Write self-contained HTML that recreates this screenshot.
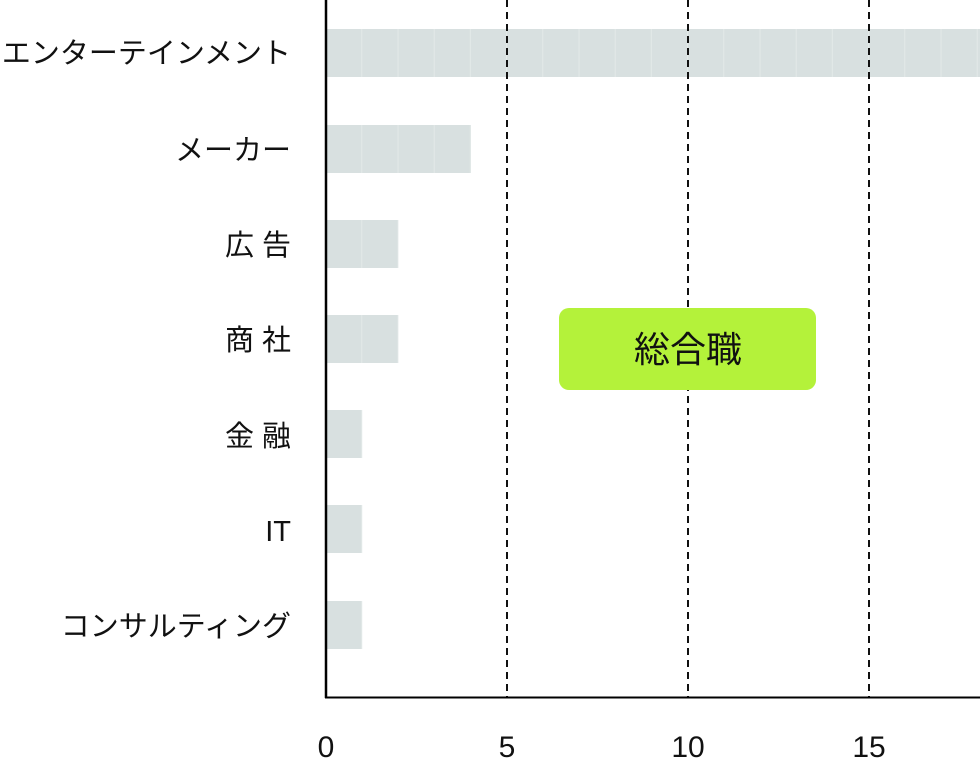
<!DOCTYPE html>
<html><head><meta charset="utf-8"><style>
html,body{margin:0;padding:0;background:#fff;}
svg{display:block;}
text{font-family:"Liberation Sans","Noto Sans CJK JP",sans-serif;fill:#111;}
</style></head><body>
<svg width="980" height="760" viewBox="0 0 980 760" xmlns="http://www.w3.org/2000/svg">
<defs>
<pattern id="seg" x="326" y="0" width="36.2" height="760" patternUnits="userSpaceOnUse">
<rect x="0" y="0" width="36.2" height="760" fill="#d8e0e0"/>
<rect x="35.4" y="0" width="0.8" height="760" fill="#e6ecea"/>
</pattern>
</defs>
<g fill="url(#seg)">
<rect x="326" y="29" width="654" height="48"/>
<rect x="326" y="125" width="145" height="48"/>
<rect x="326" y="220" width="72.4" height="48"/>
<rect x="326" y="315" width="72.4" height="48"/>
<rect x="326" y="410" width="36.2" height="48"/>
<rect x="326" y="505" width="36.2" height="48"/>
<rect x="326" y="601" width="36.2" height="48"/>
</g>
<g stroke="#111" stroke-width="2" stroke-dasharray="7,5">
<line x1="507" y1="0" x2="507" y2="697"/>
<line x1="688" y1="0" x2="688" y2="697"/>
<line x1="869" y1="0" x2="869" y2="697"/>
</g>
<line x1="326" y1="0" x2="326" y2="698" stroke="#000" stroke-width="2.5"/>
<line x1="325" y1="697.5" x2="980" y2="697.5" stroke="#000" stroke-width="2"/>
<g font-size="29" text-anchor="end">
<text x="291" y="63">エンターテインメント</text>
<text x="291" y="160">メーカー</text>
<text x="291" y="255">広 告</text>
<text x="291" y="350">商 社</text>
<text x="291" y="446">金 融</text>
<text x="291" y="541">IT</text>
<text x="291" y="636">コンサルティング</text>
</g>
<g font-size="30" text-anchor="middle">
<text x="326" y="757">0</text>
<text x="507" y="757">5</text>
<text x="688" y="757">10</text>
<text x="869" y="757">15</text>
</g>
<rect x="559" y="308" width="257" height="82" rx="10" fill="#b4f23a"/>
<text x="688" y="362" font-size="36" text-anchor="middle">総合職</text>
</svg>
</body></html>
